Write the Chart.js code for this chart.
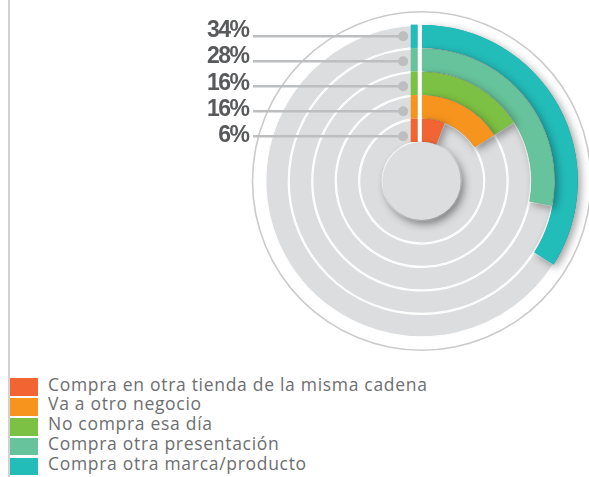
<!DOCTYPE html>
<html>
<head>
<meta charset="utf-8">
<script src="https://cdn.jsdelivr.net/npm/chart.js@4"></script>
<style>
  html, body { margin:0; padding:0; background:#fff; }
  body { width:589px; height:477px; overflow:hidden; position:relative; }
  #wrap { position:absolute; left:0; top:0; width:600px; height:360px; }
  #vline { position:absolute; left:8px; top:0; width:2px; height:477px; background:#d2d2d3; }
  .lg-box { position:absolute; left:10px; width:28px; height:17.5px; }
  .lg-txt { position:absolute; left:48px; font-family:'Open Sans', sans-serif; font-size:17.5px; letter-spacing:0.7px; line-height:20px; color:#6d6e71; white-space:nowrap; }
</style>
</head>
<body>
<div id="vline"></div>
<div id="wrap"><canvas id="c" width="600" height="360"></canvas></div>
<div id="legend"></div>
<script>
// ---- data ----
const categories = [
  'Compra en otra tienda de la misma cadena',
  'Va a otro negocio',
  'No compra esa día',
  'Compra otra presentación',
  'Compra otra marca/producto'
];
const values = [6, 16, 16, 28, 34];
const valueLabels = ['6%', '16%', '16%', '28%', '34%'];
const colors = ['#f26532', '#f7941e', '#7cc143', '#66c39b', '#22bcb9'];
const ringGray = '#dcddde';

// ---- datasets (Chart.js: index 0 = outermost ring) ----
const datasets = [
  { data: [100], backgroundColor: ['#cbcbcc'], borderWidth: 0, weight: 1.6 },   // outline circle
  { data: [100], backgroundColor: ['rgba(0,0,0,0)'], borderWidth: 0, weight: 12 } // spacer
];
for (let i = categories.length - 1; i >= 0; i--) {
  datasets.push({
    label: categories[i],
    data: [values[i], 100 - values[i]],
    backgroundColor: [colors[i], ringGray],
    borderColor: ['#ffffff', '#ffffff'],
    borderWidth: [0, 0.8],
    borderAlign: 'inner',
    weight: 23.5
  });
}
const FIRST_RING = 2;

const decoPlugin = {
  id: 'deco',
  afterDatasetsDraw(chart) {
    const ctx = chart.ctx;
    const n = categories.length;
    const metas = [];
    for (let k = 0; k < n; k++) metas.push(chart.getDatasetMeta(FIRST_RING + k));
    const a0 = metas[0].data[0];
    const cx = a0.x, cy = a0.y;

    // redraw coloured arcs with a drop shadow (outer ring first)
    ctx.save();
    ctx.shadowColor = 'rgba(0,0,0,0.38)';
    ctx.shadowBlur = 8;
    ctx.shadowOffsetX = 3;
    ctx.shadowOffsetY = 3;
    metas.forEach(m => m.data[0].draw(ctx));
    ctx.restore();

    // gap + small marker strip at 12 o'clock
    metas.forEach((m, k) => {
      const arc = m.data[0];
      const idx = n - 1 - k;
      ctx.fillStyle = '#ffffff';
      ctx.fillRect(cx - 4, cy - arc.outerRadius - 0.5, 4, arc.outerRadius - arc.innerRadius + 1);
      ctx.fillStyle = colors[idx];
      ctx.fillRect(cx - 11, cy - arc.outerRadius, 7, arc.outerRadius - arc.innerRadius);
    });

    // centre disc with shadow
    const rIn = metas[n - 1].data[0].innerRadius;
    ctx.save();
    ctx.shadowColor = 'rgba(0,0,0,0.45)';
    ctx.shadowBlur = 8;
    ctx.shadowOffsetX = 3;
    ctx.shadowOffsetY = 4;
    ctx.beginPath();
    ctx.arc(cx, cy, rIn, 0, Math.PI * 2);
    ctx.fillStyle = '#dcddde';
    ctx.fill();
    ctx.restore();

    // leader lines, dots and percentage labels
    const outerMid = (metas[0].data[0].outerRadius + metas[0].data[0].innerRadius) / 2;
    const lineTop = cy - outerMid;
    const dotX = cx - 18.5;
    ctx.save();
    for (let k = 0; k < n; k++) {
      const idx = n - 1 - k;
      const ly = lineTop + k * 25;
      ctx.strokeStyle = '#bcbec0';
      ctx.lineWidth = 2.5;
      ctx.beginPath();
      ctx.moveTo(253, ly);
      ctx.lineTo(dotX, ly);
      ctx.stroke();
      ctx.beginPath();
      ctx.arc(dotX, ly, 5, 0, Math.PI * 2);
      ctx.fillStyle = '#bcbec0';
      ctx.fill();

      ctx.font = "bold 23px 'Liberation Sans', Arial, sans-serif";
      ctx.letterSpacing = '-1.5px';
      ctx.fillStyle = '#58595b';
      ctx.textAlign = 'right';
      ctx.textBaseline = 'alphabetic';
      ctx.fillText(valueLabels[idx], 248.5, lineTop + 0.7 + k * 26.25);
    }
    ctx.restore();
  }
};

new Chart(document.getElementById('c'), {
  type: 'doughnut',
  data: { labels: ['value', 'rest'], datasets },
  options: {
    responsive: false,
    animation: false,
    events: [],
    cutout: 39,
    layout: { padding: { left: 251.7, top: 11, right: 8.3, bottom: 9 } },
    plugins: { legend: { display: false }, tooltip: { enabled: false } }
  },
  plugins: [decoPlugin]
});

// ---- legend ----
const lg = document.getElementById('legend');
categories.forEach((name, i) => {
  const top = 378.3 + i * 19.85;
  const b = document.createElement('div');
  b.className = 'lg-box';
  b.style.top = top + 'px';
  b.style.background = colors[i];
  lg.appendChild(b);
  const t = document.createElement('div');
  t.className = 'lg-txt';
  t.style.top = (top - 4.8) + 'px';
  t.textContent = name;
  lg.appendChild(t);
});
</script>
</body>
</html>
